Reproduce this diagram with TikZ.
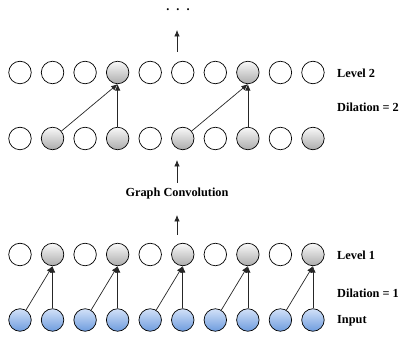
\documentclass[tikz,border=0pt]{standalone}
\usepackage{fontspec}
\setmainfont{Liberation Serif}
\usepackage{tikz}
\usetikzlibrary{arrows.meta,calc}
\definecolor{inputtop}{RGB}{210,225,248}
\definecolor{inputbottom}{RGB}{110,156,222}
\tikzstyle{line} = [draw=black!85, line width=0.7pt, -{Latex[length=6.5pt,width=5.5pt]}]
\tikzstyle{vertex} = [circle, draw=black, line width=0.7pt, minimum size=22.5pt, inner sep=0pt]
\tikzstyle{blank} = [vertex, fill=white]
\tikzstyle{active} = [vertex, top color=gray!5, bottom color=gray!65]
\tikzstyle{inp} = [vertex, top color=inputtop, bottom color=inputbottom]
\tikzstyle{lvl} = [anchor=west, inner sep=0pt, font={\bfseries\fontsize{12.3}{14}\selectfont}]

\begin{document}
\begin{tikzpicture}[x=1pt, y=1pt]
      \useasboundingbox (0,0) rectangle (403,339);
      % input row and the two levels
      \foreach \i in {0,...,9}
        \node [inp] (in\i) at (20+32.55*\i, 19) {};
      \foreach \i/\s in {0/blank,1/active,2/blank,3/active,4/blank,
                         5/active,6/blank,7/active,8/blank,9/active} {
        \node [\s] (lo\i) at (20+32.55*\i, 84.5) {};
        \node [\s] (mid\i) at (20+32.55*\i, 200.5) {};
      }
      \foreach \i/\s in {0/blank,1/blank,2/blank,3/active,4/blank,
                         5/blank,6/blank,7/active,8/blank,9/blank}
        \node [\s] (hi\i) at (20+32.55*\i, 266.5) {};
      % dilation 1
      \foreach \j [evaluate=\j as \i using int(\j-1)] in {1,3,5,7,9} {
        \path [line] (in\i) -- (lo\j.south);
        \path [line] (in\j) -- (lo\j.south);
      }
      % dilation 2
      \foreach \j/\i in {3/1,7/5} {
        \path [line] (mid\i) -- (hi\j.south);
        \path [line] (mid\j) -- (hi\j.south);
      }
      \node [lvl] (lvlone) at (337,84) {Level 1};
      \node [lvl] (dilone) at (337,46) {Dilation = 1};
      \node [lvl] (inlbl) at (337,18) {Input};
      \node [lvl] (lvltwo) at (337,266) {Level 2};
      \node [lvl] (diltwo) at (337,232) {Dilation = 2};
      \node [lvl, anchor=center] (gc) at (177,145) {Graph Convolution};
      \node [lvl, anchor=center] (dots) at (178,329) {.\hspace{7pt}.\hspace{7pt}.};
      \coordinate (convin) at (177,104);
      \coordinate (convtip) at (177,124);
      \coordinate (convout) at (177,156);
      \coordinate (midtip) at (177,179);
      \coordinate (topout) at (177,287);
      \coordinate (toptip) at (177,309);
      \path [line] (convin) -- (convtip);
      \path [line] (convout) -- (midtip);
      \path [line] (topout) -- (toptip);
    \end{tikzpicture}
\end{document}
